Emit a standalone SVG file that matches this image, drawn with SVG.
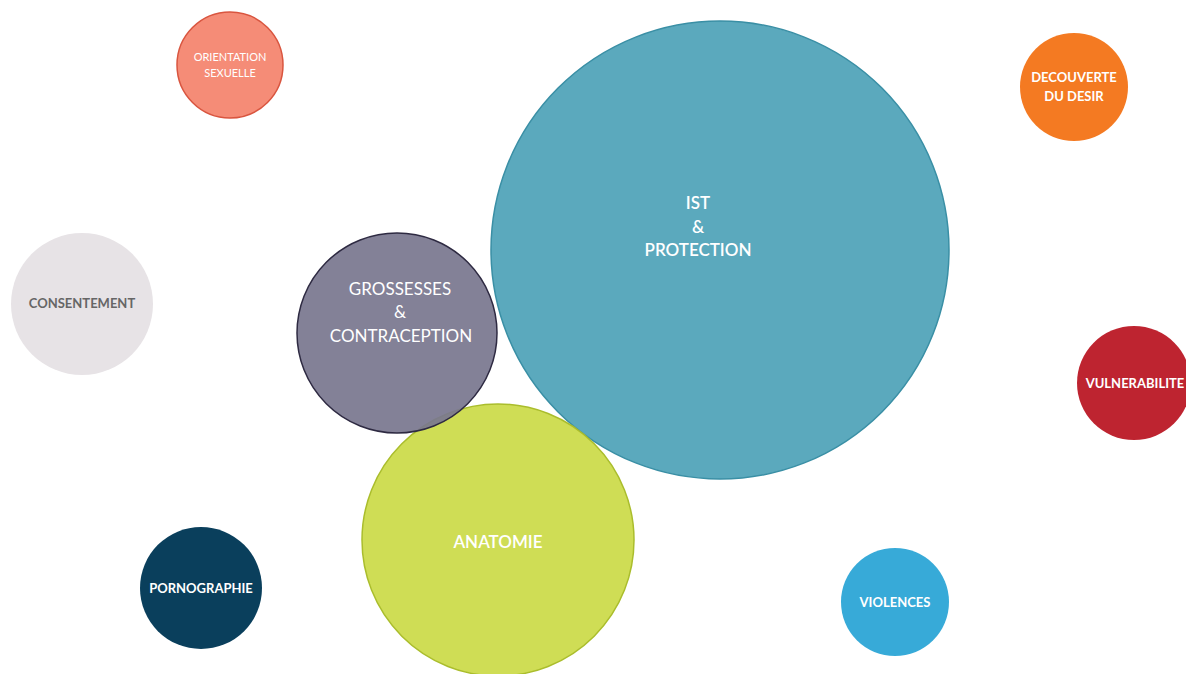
<svg xmlns="http://www.w3.org/2000/svg" width="1186" height="674" viewBox="0 0 1186 674">
<style>
text{font-family:Lato,"Open Sans","Liberation Sans",sans-serif;text-anchor:middle;fill:#fff}
.s{font-size:13px;font-weight:700}
.m{font-size:17px}
</style>
<rect width="1186" height="674" fill="#fff"/>
<g id="connectors"/>
<g id="orientation">
<circle cx="230" cy="65" r="53" fill="#F58C77" stroke="#D9553F" stroke-width="1.5"/>
<text x="230" y="61" font-size="11">ORIENTATION</text>
<text x="230" y="77" font-size="11">SEXUELLE</text>
</g>
<g id="decouverte">
<circle cx="1074" cy="87" r="54" fill="#F47A22"/>
<text class="s" x="1074" y="82">DECOUVERTE</text>
<text class="s" x="1074" y="101">DU DESIR</text>
</g>
<g id="consentement">
<circle cx="82" cy="304" r="71" fill="#E7E3E6"/>
<text class="s" x="82" y="308" style="fill:#666">CONSENTEMENT</text>
</g>
<g id="ist">
<circle cx="720" cy="250" r="229" fill="#5BA9BD" stroke="#3A8FA5" stroke-width="1.5"/>
<text class="m" x="698" y="209" font-weight="600">IST</text>
<text class="m" x="698" y="233" font-weight="600">&amp;</text>
<text class="m" x="698" y="256" font-weight="600">PROTECTION</text>
</g>
<g id="anatomie">
<circle cx="498" cy="540" r="136" fill="#CFDD55" stroke="#AABD2C" stroke-width="1.5"/>
<text class="m" x="498" y="548" font-weight="600">ANATOMIE</text>
</g>
<g id="grossesses">
<circle cx="397" cy="333" r="100" fill="#7A778F" fill-opacity="0.93" stroke="#2E2A42" stroke-width="1.5"/>
<text class="m" x="400" y="295">GROSSESSES</text>
<text class="m" x="400" y="318">&amp;</text>
<text class="m" x="401" y="342">CONTRACEPTION</text>
</g>
<g id="vulnerabilite">
<circle cx="1134" cy="383" r="57" fill="#BE2430"/>
<text class="s" x="1135" y="388">VULNERABILITE</text>
</g>
<g id="pornographie">
<circle cx="201" cy="588" r="61" fill="#0A3F5C"/>
<text class="s" x="201" y="593">PORNOGRAPHIE</text>
</g>
<g id="violences">
<circle cx="895" cy="602" r="54" fill="#37AAD8"/>
<text class="s" x="895" y="607">VIOLENCES</text>
</g>
</svg>
